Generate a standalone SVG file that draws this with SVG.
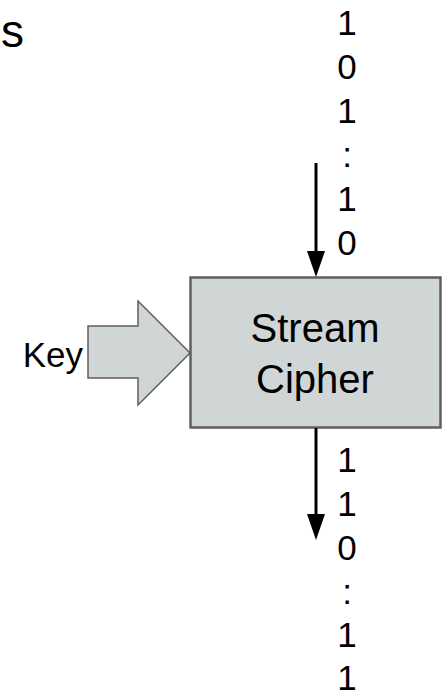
<svg xmlns="http://www.w3.org/2000/svg" width="443" height="692" viewBox="0 0 443 692">
  <style>
    text { font-family: "Liberation Sans", Arial, sans-serif; fill: #000; }
    .bit { font-size: 35px; text-anchor: middle; }
    .shape { fill: #d0d5d6; stroke: #5f5f5f; }
    .flow { stroke: #000; stroke-width: 3; fill: none; }
    .head { fill: #000; }
  </style>

  <!-- partial heading letter at the top-left -->
  <text x="1" y="47" font-size="46">s</text>

  <!-- input bit stream -->
  <g id="input-bits">
    <text class="bit" x="347" y="35">1</text>
    <text class="bit" x="347" y="79">0</text>
    <text class="bit" x="347" y="123">1</text>
    <text class="bit" x="347" y="167">:</text>
    <text class="bit" x="347" y="211">1</text>
    <text class="bit" x="347" y="255">0</text>
  </g>

  <!-- output bit stream -->
  <g id="output-bits">
    <text class="bit" x="347" y="472">1</text>
    <text class="bit" x="347" y="516">1</text>
    <text class="bit" x="347" y="560">0</text>
    <text class="bit" x="347" y="604">:</text>
    <text class="bit" x="347" y="647">1</text>
    <text class="bit" x="347" y="690">1</text>
  </g>

  <!-- key input -->
  <g id="key">
    <polygon class="shape" stroke-width="1.5" points="88,326 138,326 138,301 190,353 138,405 138,378 88,378"/>
    <text x="83" y="367" font-size="35" text-anchor="end">Key</text>
  </g>

  <!-- cipher block -->
  <g id="stream-cipher">
    <rect class="shape" stroke-width="2.5" x="190.5" y="277.5" width="250" height="150"/>
    <text x="315" y="342" font-size="40" text-anchor="middle">Stream</text>
    <text x="315" y="393" font-size="40" text-anchor="middle">Cipher</text>
  </g>

  <!-- connectors -->
  <g id="connectors">
    <line class="flow" x1="316" y1="163" x2="316" y2="254"/>
    <polygon class="head" points="307,251 325,251 316,277"/>
    <line class="flow" x1="316" y1="428" x2="316" y2="518"/>
    <polygon class="head" points="307,514 325,514 316,540"/>
  </g>
</svg>
